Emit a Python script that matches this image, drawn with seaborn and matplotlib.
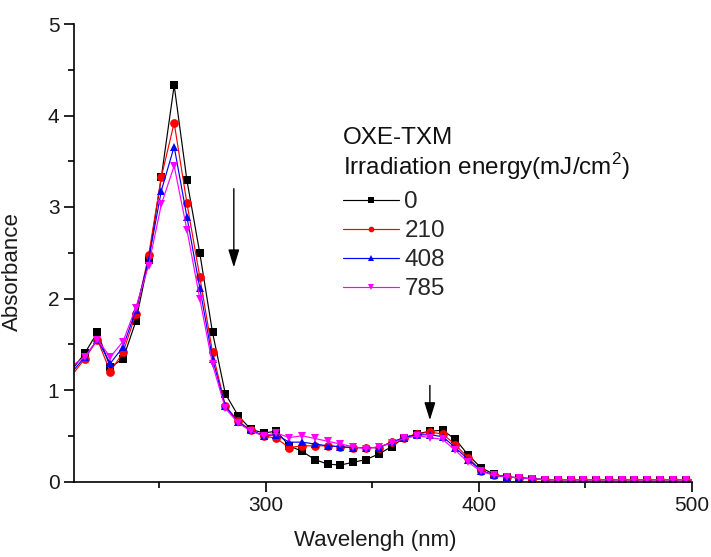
import numpy as np
import pandas as pd
import matplotlib
matplotlib.use("Agg")
import matplotlib.pyplot as plt
from matplotlib.ticker import MultipleLocator
import seaborn as sns

# wavelength grid (nm): line end points 210 / 500, markers every 6 nm in between
wavelength = [210] + list(range(215, 498, 6)) + [500]

tail = [0.02] * 12  # 431 ... 497 nm, flat baseline

abs_0 = [1.25, 1.40, 1.63, 1.25, 1.34, 1.75, 2.42, 3.33, 4.33, 3.29, 2.50, 1.63, 0.96,
         0.72, 0.57, 0.53, 0.55, 0.39, 0.33, 0.24, 0.19, 0.18, 0.21, 0.24, 0.30, 0.38,
         0.48, 0.52, 0.55, 0.56, 0.46, 0.29, 0.15, 0.08, 0.05, 0.04, 0.03] + tail + [0.02]
abs_210 = [1.19, 1.34, 1.55, 1.20, 1.41, 1.83, 2.47, 3.33, 3.92, 3.04, 2.24, 1.41, 0.83,
           0.66, 0.56, 0.50, 0.47, 0.37, 0.39, 0.39, 0.39, 0.38, 0.37, 0.37, 0.37, 0.43,
           0.48, 0.52, 0.54, 0.52, 0.40, 0.26, 0.12, 0.07, 0.05, 0.04, 0.03] + tail + [0.02]
abs_408 = [1.22, 1.36, 1.55, 1.29, 1.47, 1.87, 2.42, 3.18, 3.66, 2.89, 2.12, 1.34, 0.82,
           0.65, 0.56, 0.50, 0.51, 0.43, 0.43, 0.41, 0.39, 0.38, 0.37, 0.37, 0.37, 0.43,
           0.48, 0.51, 0.51, 0.49, 0.37, 0.24, 0.12, 0.07, 0.05, 0.04, 0.03] + tail + [0.02]
abs_785 = [1.28, 1.36, 1.55, 1.36, 1.53, 1.90, 2.36, 3.03, 3.45, 2.75, 2.00, 1.28, 0.80,
           0.64, 0.55, 0.50, 0.53, 0.48, 0.50, 0.47, 0.44, 0.41, 0.38, 0.36, 0.38, 0.42,
           0.47, 0.50, 0.48, 0.46, 0.34, 0.21, 0.11, 0.07, 0.05, 0.04, 0.03] + tail + [0.02]

energies = ["0", "210", "408", "785"]
series = [abs_0, abs_210, abs_408, abs_785]
colors = ["#000000", "#ff0000", "#0000ff", "#ff00ff"]
markers = ["s", "o", "^", "v"]

df = pd.concat(
    [pd.DataFrame({"Wavelength": wavelength, "Absorbance": vals, "Energy": e})
     for e, vals in zip(energies, series)],
    ignore_index=True,
)

sns.set_theme(style="ticks")
plt.rcParams["font.family"] = ["Liberation Sans", "DejaVu Sans"]
plt.rcParams["mathtext.fontset"] = "custom"
plt.rcParams["mathtext.rm"] = "Liberation Sans"

fig = plt.figure(figsize=(7.11, 5.57), dpi=100)
ax = fig.add_axes([74 / 711, 1 - 481.5 / 557, 618 / 711, 457.5 / 557])

n = len(wavelength)
sns.lineplot(
    data=df, x="Wavelength", y="Absorbance", hue="Energy", style="Energy",
    hue_order=energies, style_order=energies, palette=colors,
    markers=markers, dashes=False, linewidth=0.85, markersize=6.3,
    markeredgewidth=0, markevery=list(range(1, n - 1)), ax=ax, sort=True,
)

ax.set_xlim(210, 500)
ax.set_ylim(0, 5)
ax.xaxis.set_major_locator(MultipleLocator(100))
ax.xaxis.set_minor_locator(MultipleLocator(50))
ax.yaxis.set_major_locator(MultipleLocator(1))
ax.yaxis.set_minor_locator(MultipleLocator(0.5))
sns.despine(ax=ax)
for s in ["left", "bottom"]:
    ax.spines[s].set_linewidth(1.2)
    ax.spines[s].set_color("black")
ax.tick_params(which="major", length=7, width=1.2, labelsize=15, color="black",
               labelcolor="#1a1a1a")
ax.tick_params(which="minor", length=4.5, width=1.2, color="black")

ax.set_xlabel("Wavelengh (nm)", fontsize=16, color="#1a1a1a")
ax.set_ylabel("Absorbance", fontsize=16, color="#1a1a1a")
ax.xaxis.set_label_coords(0.487, -0.105)
ax.yaxis.set_label_coords(-0.082, 0.458)

# arrows showing the decrease with irradiation
arrow = dict(arrowstyle="-|>,head_width=0.28,head_length=0.9", color="black",
             lw=1.0, shrinkA=0, shrinkB=0)
ax.annotate("", xy=(285, 2.34), xytext=(285, 3.20), arrowprops=arrow)
ax.annotate("", xy=(377, 0.67), xytext=(377, 1.05), arrowprops=arrow)

# legend
handles, labels = ax.get_legend_handles_labels()
ax.legend(handles=handles, labels=labels, loc="upper left",
          bbox_to_anchor=(343 / 711, 1 - 191 / 557), bbox_transform=fig.transFigure,
          frameon=False, fontsize=17.5, handlelength=2.3, handletextpad=0.22,
          labelspacing=0.29, borderpad=0, borderaxespad=0, markerscale=0.65)
fig.text(343 / 711, 1 - 144 / 557, "OXE-TXM", fontsize=17.5, color="#111111",
         va="baseline", ha="left")
fig.text(343 / 711, 1 - 175 / 557, "Irradiation energy(mJ/cm$^2$)", fontsize=17.5,
         color="#111111", va="baseline", ha="left")

fig.savefig("out.png", dpi=100)
